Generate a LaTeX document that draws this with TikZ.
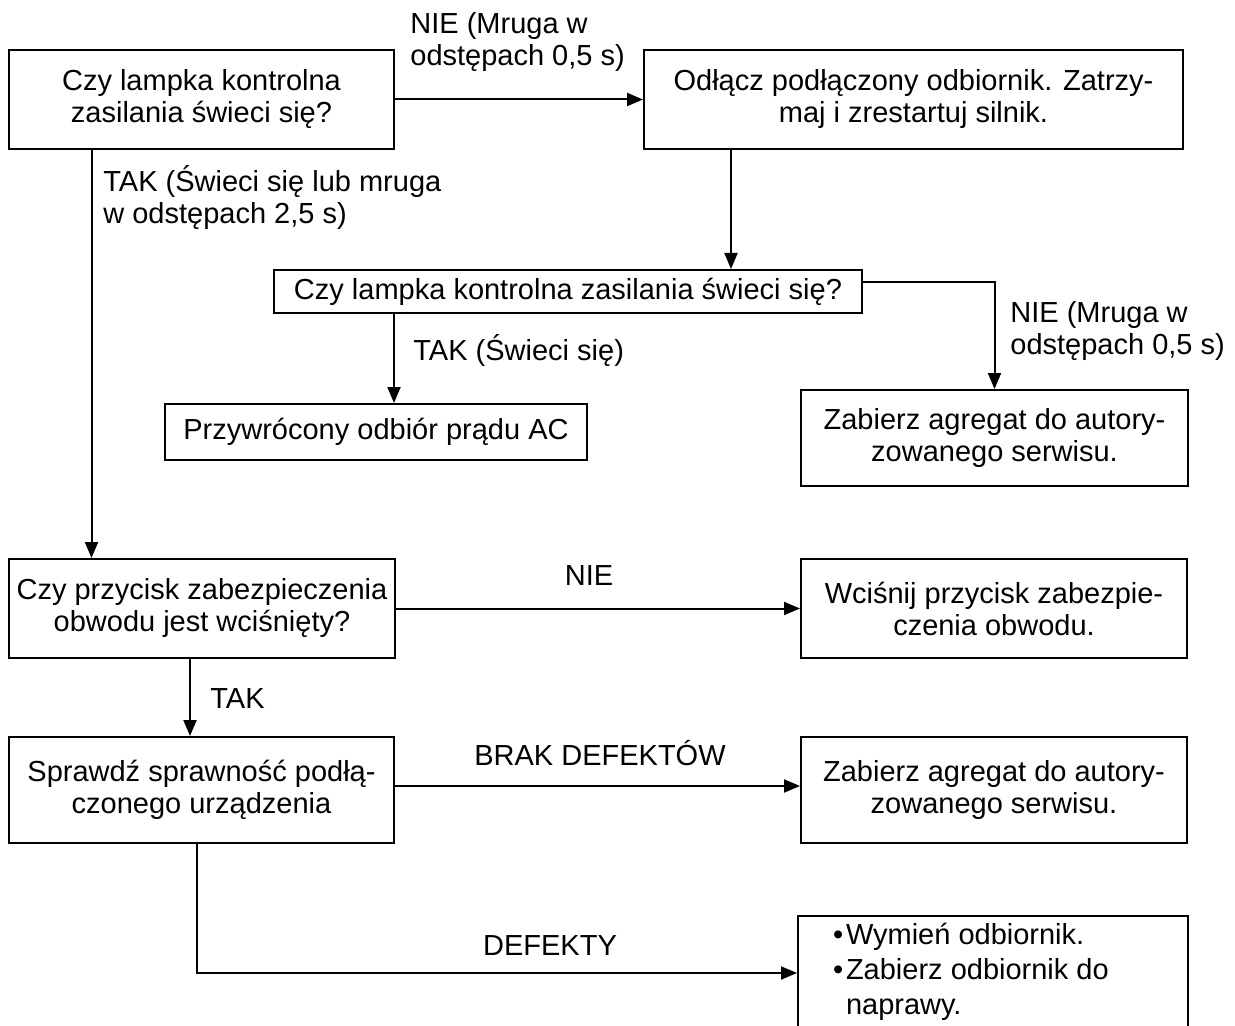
\documentclass[tikz,border=0pt]{standalone}
\usepackage{fontspec}
\setmainfont{Liberation Sans}
\usetikzlibrary{arrows.meta,positioning,calc}

\begin{document}
\begin{tikzpicture}[
    x=0.5pt, y=-0.5pt,
    font=\fontsize{14.5pt}{16pt}\selectfont,
    box/.style={draw, line width=1pt, align=center, inner sep=0pt},
    arr/.style={line width=1pt, -{Triangle[length=8pt,width=6.5pt]}},
    lbl/.style={align=left, inner sep=0pt}
]
    \useasboundingbox (0,0) rectangle (1235,1026);
    \clip (0,0) rectangle (1235,1026);

    % Boxes
    \node[box, minimum width=192.5pt, minimum height=49.5pt] (lamp) at (201.5,99.5)
        {Czy lampka kontrolna\\zasilania świeci się?};
    \node[box, minimum width=269.5pt, minimum height=49.5pt] (restart) at (913.5,99.5)
        {Odłącz podłączony odbiornik. Zatrzy-\\maj i zrestartuj silnik.};
    \node[box, minimum width=294pt, minimum height=21.5pt] (lamp2) at (568,291.5)
        {Czy lampka kontrolna zasilania świeci się?};
    \node[box, minimum width=211pt, minimum height=28pt] (ac) at (376,432)
        {Przywrócony odbiór prądu AC};
    \node[box, minimum width=193.5pt, minimum height=48pt] (service1) at (994.5,438)
        {Zabierz agregat do autory-\\zowanego serwisu.};
    \node[box, minimum width=193pt, minimum height=49.5pt] (breaker) at (202,608.5)
        {Czy przycisk zabezpieczenia\\obwodu jest wciśnięty?};
    \node[box, minimum width=193pt, minimum height=49.5pt] (press) at (994,608.5)
        {Wciśnij przycisk zabezpie-\\czenia obwodu.};
    \node[box, minimum width=192.5pt, minimum height=53pt] (check) at (201.5,790)
        {Sprawdź sprawność podłą-\\czonego urządzenia};
    \node[box, minimum width=193pt, minimum height=53pt] (service2) at (994,790)
        {Zabierz agregat do autory-\\zowanego serwisu.};
    \node[box, anchor=north west, align=left, inner xsep=17.5pt, inner ysep=3.5pt] (fix) at (797,915)
        {\parbox[t][70pt][t]{160pt}{\raggedright\baselineskip=17.5pt
         \makebox[6.5pt][l]{\textbullet}Wymień odbiornik.\\
         \makebox[6.5pt][l]{\textbullet}Zabierz odbiornik do\\
         \hspace*{6.5pt}naprawy.}};

    % Helper coordinates for vertical runs
    \coordinate (ax) at (91.5,0);
    \coordinate (bx) at (731,0);
    \coordinate (cx) at (394,0);
    \coordinate (fx) at (190,0);
    \coordinate (hx) at (197,0);
    \coordinate (dy) at (0,973);

    % Connectors
    \draw[arr] (lamp) -- (restart);
    \draw[arr] (restart.south -| bx) -- (lamp2.north -| bx);
    \draw[arr] ([yshift=4.75pt]lamp2.east) -| (service1.north);
    \draw[arr] (lamp2.south -| cx) -- (ac.north -| cx);
    \draw[arr] (lamp.south -| ax) -- (breaker.north -| ax);
    \draw[arr] (breaker) -- (press);
    \draw[arr] (breaker.south -| fx) -- (check.north -| fx);
    \draw[arr] ([yshift=2pt]check.east) -- ([yshift=2pt]service2.west);
    \draw[arr] (check.south -| hx) |- (fix.west |- dy);

    % Labels
    \node[lbl, anchor=west] (nie1) at (410,42) {NIE (Mruga w\\odstępach 0,5 s)};
    \node[lbl, anchor=west] (tak1) at (103,197.5) {TAK (Świeci się lub mruga\\w odstępach 2,5 s)};
    \node[lbl, anchor=west] (nie2) at (1010,331) {NIE (Mruga w\\odstępach 0,5 s)};
    \node[lbl, anchor=base west] (tak2) at (413,360) {TAK (Świeci się)};
    \node[lbl, anchor=base] (nie3) at (589,585) {NIE};
    \node[lbl, anchor=base west] (tak3) at (210,708) {TAK};
    \node[lbl, anchor=base] (brak) at (600,765) {BRAK DEFEKTÓW};
    \node[lbl, anchor=base] (defekty) at (550,955) {DEFEKTY};
\end{tikzpicture}
\end{document}
